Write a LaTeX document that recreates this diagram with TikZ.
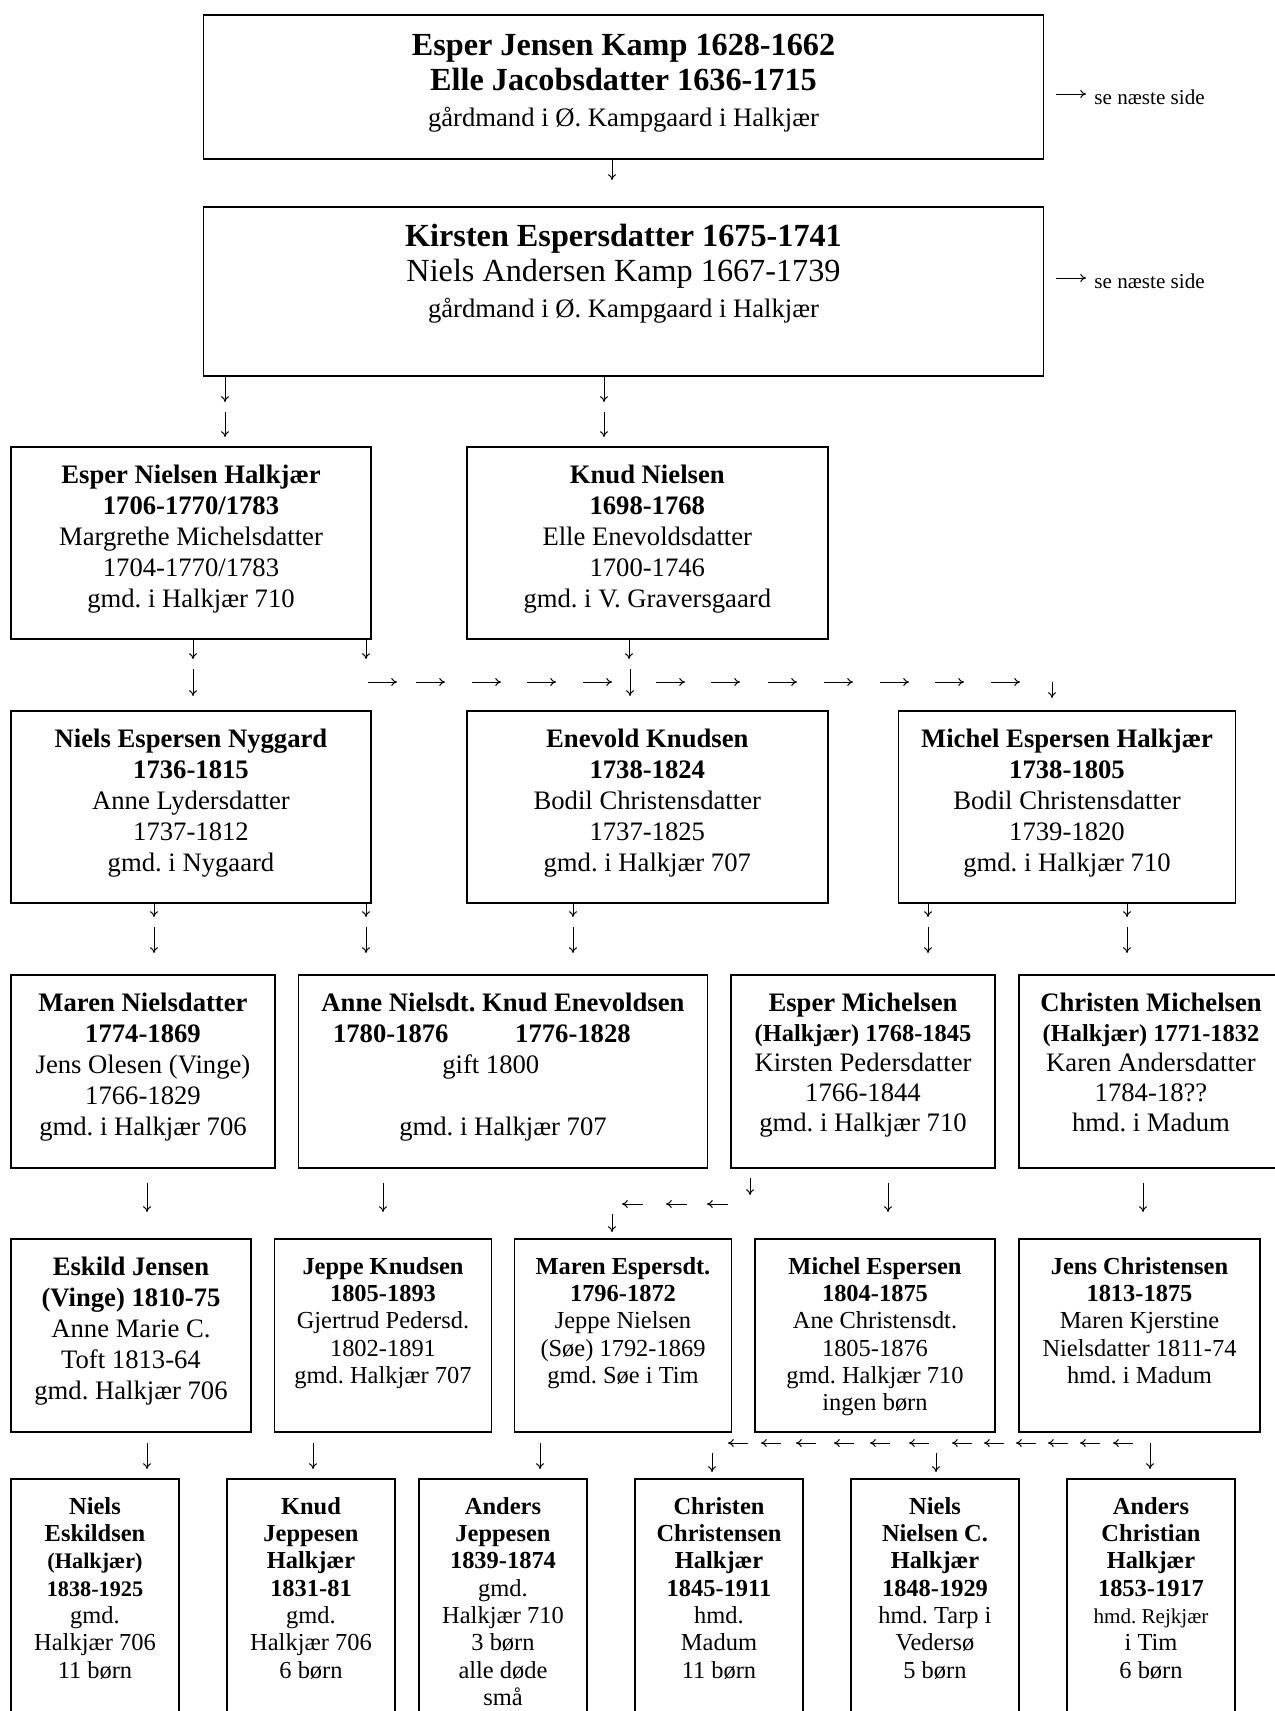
\documentclass[tikz,border=0pt]{standalone}
\usepackage{fontspec}
\setmainfont{Liberation Serif}
\usetikzlibrary{arrows.meta}

\newcommand{\fbig}{\fontsize{14.5}{16}\selectfont}
\newcommand{\fmid}{\fontsize{12}{14}\selectfont}
\newcommand{\fmidd}{\fontsize{12}{13.5}\selectfont}
\newcommand{\fsmall}{\fontsize{11}{12.3}\selectfont}
\newcommand{\ften}{\fontsize{10}{12}\selectfont}
\newcommand{\fnote}{\fontsize{9.5}{11}\selectfont}
\newcommand{\fmini}{\fontsize{9.5}{11}\selectfont}

\begin{document}
\frenchspacing
\begin{tikzpicture}[x=0.45pt, y=-0.45pt,
  person/.style 2 args={draw, line width=0.8pt, inner sep=0pt,
    minimum width=#1*0.45pt, minimum height=#2*0.45pt},
  txt/.style={anchor=base, inner sep=0pt},
  arr/.style={-{To[length=2.6pt,width=3.6pt]}, line width=0.45pt}]
  \useasboundingbox (0,0) rectangle (1275,1711);
  \fill[white] (0,0) rectangle (1275,1711);
  \clip (0,0) rectangle (1275,1711);

  % stamfar og datter
  \node[person={840}{144}] (Esper) at (623.5,87) {};
  \node[txt, font=\fbig] (EsperT) at (623.5,55) {\begin{tabular}[t]{c}
    \textbf{Esper Jensen Kamp 1628-1662}\\
    \textbf{Elle Jacobsdatter 1636-1715}\\
    \fmid gårdmand i Ø. Kampgaard i Halkjær
  \end{tabular}};
  \node[person={840}{169}] (Kirsten) at (623.5,291.5) {};
  \node[txt, font=\fbig] (KirstenT) at (623.5,246) {\begin{tabular}[t]{c}
    \textbf{Kirsten Espersdatter 1675-1741}\\
    Niels Andersen Kamp 1667-1739\\
    \fmid gårdmand i Ø. Kampgaard i Halkjær
  \end{tabular}};

  \draw[arr] (1056,94) -- (1086,94);
  \node[anchor=west, inner sep=0pt, font=\fnote] (next1) at (1094,97) {se næste side};
  \draw[arr] (1056,278) -- (1086,278);
  \node[anchor=west, inner sep=0pt, font=\fnote] (next2) at (1094,281) {se næste side};

  % 3. generation
  \node[person={360}{192}] (EsperN) at (191,543) {};
  \node[txt, font=\fmid] (EsperNT) at (191,483) {\begin{tabular}[t]{c}
    \textbf{Esper Nielsen Halkjær}\\
    \textbf{1706-1770/1783}\\
    Margrethe Michelsdatter\\
    1704-1770/1783\\
    gmd. i Halkjær 710
  \end{tabular}};
  \node[person={361}{192}] (Knud) at (647.3,543) {};
  \node[txt, font=\fmid] (KnudT) at (647.3,483) {\begin{tabular}[t]{c}
    \textbf{Knud Nielsen}\\
    \textbf{1698-1768}\\
    Elle Enevoldsdatter\\
    1700-1746\\
    gmd. i V. Graversgaard
  \end{tabular}};

  % 4. generation
  \node[person={360}{192}] (NielsE) at (191,807) {};
  \node[txt, font=\fmid] (NielsET) at (191,747) {\begin{tabular}[t]{c}
    \textbf{Niels Espersen Nyggard}\\
    \textbf{1736-1815}\\
    Anne Lydersdatter\\
    1737-1812\\
    gmd. i Nygaard
  \end{tabular}};
  \node[person={361}{192}] (Enevold) at (647.3,807) {};
  \node[txt, font=\fmid] (EnevoldT) at (647.3,747) {\begin{tabular}[t]{c}
    \textbf{Enevold Knudsen}\\
    \textbf{1738-1824}\\
    Bodil Christensdatter\\
    1737-1825\\
    gmd. i Halkjær 707
  \end{tabular}};
  \node[person={337}{192}] (Michel) at (1067,807) {};
  \node[txt, font=\fmid] (MichelT) at (1067,747) {\begin{tabular}[t]{c}
    \textbf{Michel Espersen Halkjær}\\
    \textbf{1738-1805}\\
    Bodil Christensdatter\\
    1739-1820\\
    gmd. i Halkjær 710
  \end{tabular}};

  % 5. generation
  \node[person={264}{193}] (Maren) at (143,1071.5) {};
  \node[txt, font=\fmid] (MarenT) at (143,1011) {\begin{tabular}[t]{c}
    \textbf{Maren Nielsdatter}\\
    \textbf{1774-1869}\\
    Jens Olesen (Vinge)\\
    1766-1829\\
    gmd. i Halkjær 706
  \end{tabular}};
  \node[person={409}{193}] (Anne) at (503,1071.5) {};
  \node[txt, font=\fmid] (AnneT) at (503,1011) {\begin{tabular}[t]{c}
    \textbf{Anne Nielsdt. Knud Enevoldsen}\\
    \textbf{1780-1876}\hspace{30pt}\textbf{1776-1828}\hspace{19pt}\null\\
    gift 1800\hspace{11pt}\null\\[14pt]
    gmd. i Halkjær 707
  \end{tabular}};
  \node[person={264}{193}] (EsperM) at (863,1071.5) {};
  \node[txt, font=\fmidd] (EsperMT) at (863,1011) {\begin{tabular}[t]{c}
    \textbf{Esper Michelsen}\\
    \fsmall\textbf{(Halkjær) 1768-1845}\\
    Kirsten Pedersdatter\\
    1766-1844\\
    gmd. i Halkjær 710
  \end{tabular}};
  \node[person={264.5}{193}] (Christen) at (1151,1071.5) {};
  \node[txt, font=\fmidd] (ChristenT) at (1151,1011) {\begin{tabular}[t]{c}
    \textbf{Christen Michelsen}\\
    \fsmall\textbf{(Halkjær) 1771-1832}\\
    Karen Andersdatter\\
    1784-18??\\
    hmd. i Madum
  \end{tabular}};

  % 6. generation
  \node[person={240}{193}] (Eskild) at (131,1335.5) {};
  \node[txt, font=\fmid] (EskildT) at (131,1275) {\begin{tabular}[t]{c}
    \textbf{Eskild Jensen}\\
    \textbf{(Vinge) 1810-75}\\
    Anne Marie C.\\
    Toft 1813-64\\
    gmd. Halkjær 706
  \end{tabular}};
  \node[person={217}{193}] (Jeppe) at (383,1335.5) {};
  \node[txt, font=\fsmall] (JeppeT) at (383,1274) {\begin{tabular}[t]{c}
    \textbf{Jeppe Knudsen}\\
    \textbf{1805-1893}\\
    Gjertrud Pedersd.\\
    1802-1891\\
    gmd. Halkjær 707
  \end{tabular}};
  \node[person={217}{193}] (MarenE) at (623,1335.5) {};
  \node[txt, font=\fsmall] (MarenET) at (623,1274) {\begin{tabular}[t]{c}
    \textbf{Maren Espersdt.}\\
    \textbf{1796-1872}\\
    Jeppe Nielsen\\
    (Søe) 1792-1869\\
    gmd. Søe i Tim
  \end{tabular}};
  \node[person={240}{193}] (MichelE) at (875,1335.5) {};
  \node[txt, font=\fsmall] (MichelET) at (875,1274) {\begin{tabular}[t]{c}
    \textbf{Michel Espersen}\\
    \textbf{1804-1875}\\
    Ane Christensdt.\\
    1805-1876\\
    gmd. Halkjær 710\\
    ingen børn
  \end{tabular}};
  \node[person={241}{193}] (Jens) at (1139.5,1335.5) {};
  \node[txt, font=\fsmall] (JensT) at (1139.5,1274) {\begin{tabular}[t]{c}
    \textbf{Jens Christensen}\\
    \textbf{1813-1875}\\
    Maren Kjerstine\\
    Nielsdatter 1811-74\\
    hmd. i Madum
  \end{tabular}};

  % 7. generation (gaar ud over siden)
  \node[person={168}{300}] (NielsEs) at (95,1629) {};
  \node[txt, font=\fsmall] (NielsEsT) at (95,1514) {\begin{tabular}[t]{c}
    \textbf{Niels}\\
    \textbf{Eskildsen}\\
    \ften\textbf{(Halkjær)}\\
    \ften\textbf{1838-1925}\\
    gmd.\\
    Halkjær 706\\
    11 børn
  \end{tabular}};
  \node[person={168}{300}] (KnudJ) at (311,1629) {};
  \node[txt, font=\fsmall] (KnudJT) at (311,1514) {\begin{tabular}[t]{c}
    \textbf{Knud}\\
    \textbf{Jeppesen}\\
    \textbf{Halkjær}\\
    \textbf{1831-81}\\
    gmd.\\
    Halkjær 706\\
    6 børn
  \end{tabular}};
  \node[person={168}{300}] (Anders) at (503,1629) {};
  \node[txt, font=\fsmall] (AndersT) at (503,1514) {\begin{tabular}[t]{c}
    \textbf{Anders}\\
    \textbf{Jeppesen}\\
    \textbf{1839-1874}\\
    gmd.\\
    Halkjær 710\\
    3 børn\\
    alle døde\\
    små
  \end{tabular}};
  \node[person={168.5}{300}] (ChristenC) at (719,1629) {};
  \node[txt, font=\fsmall] (ChristenCT) at (719,1514) {\begin{tabular}[t]{c}
    \textbf{Christen}\\
    \textbf{Christensen}\\
    \textbf{Halkjær}\\
    \textbf{1845-1911}\\
    hmd.\\
    Madum\\
    11 børn
  \end{tabular}};
  \node[person={168}{300}] (NielsN) at (935,1629) {};
  \node[txt, font=\fsmall] (NielsNT) at (935,1514) {\begin{tabular}[t]{c}
    \textbf{Niels}\\
    \textbf{Nielsen C.}\\
    \textbf{Halkjær}\\
    \textbf{1848-1929}\\
    hmd. Tarp i\\
    Vedersø\\
    5 børn
  \end{tabular}};
  \node[person={168.5}{300}] (AndersC) at (1151,1629) {};
  \node[txt, font=\fsmall] (AndersCT) at (1151,1514) {\begin{tabular}[t]{c}
    \textbf{Anders}\\
    \textbf{Christian}\\
    \textbf{Halkjær}\\
    \textbf{1853-1917}\\
    \fmini hmd. Rejkjær\\
    i Tim\\
    6 børn
  \end{tabular}};

  % pile
  \draw[arr] (612,160) -- (612,180);
  \draw[arr] (225,376) -- (225,402);
  \draw[arr] (225,412) -- (225,437);
  \draw[arr] (604,376) -- (604,402);
  \draw[arr] (604,412) -- (604,437);

  \draw[arr] (193,640) -- (193,659);
  \draw[arr] (366,640) -- (366,659);
  \draw[arr] (629,640) -- (629,659);
  \draw[arr] (193,669) -- (193,696);
  \draw[arr] (630,669) -- (630,696);
  \draw[arr] (1052,682) -- (1052,698);
  \foreach \x in {368,416,472,527,583,656,711,768,824,880,935,991}
    \draw[arr] (\x,682) -- ++(29,0);

  \foreach \x in {154,366,573,928,1127} {
    \draw[arr] (\x,903) -- (\x,917);
    \draw[arr] (\x,927) -- (\x,953);
  }

  \foreach \x in {147,383,888,1143}
    \draw[arr] (\x,1183) -- (\x,1212);
  \draw[arr] (750,1178) -- (750,1195);
  \foreach \x in {643,687,728}
    \draw[arr] (\x,1204) -- ++(-21,0);
  \draw[arr] (612,1214) -- (612,1232);

  \foreach \x in {748,781,816,854,890,929,972,1004,1036,1068,1100,1133}
    \draw[arr] (\x,1443) -- ++(-20,0);
  \foreach \x in {147,313,540,1150}
    \draw[arr] (\x,1443) -- (\x,1469);
  \draw[arr] (712,1453) -- (712,1472);
  \draw[arr] (936,1453) -- (936,1472);
\end{tikzpicture}
\end{document}
